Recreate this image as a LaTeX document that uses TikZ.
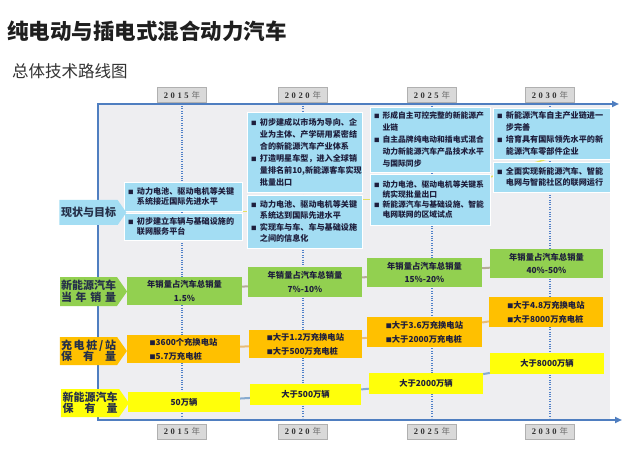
\documentclass[tikz,border=0pt]{standalone}
\usepackage{fontspec}
\setmainfont{Noto Sans CJK SC}
\newfontfamily\yrfont{Liberation Serif}
\usetikzlibrary{arrows.meta,shapes.symbols}
\definecolor{boxblue}{HTML}{A3DDF3}
\definecolor{boxgreen}{HTML}{92D050}
\definecolor{boxorange}{HTML}{FFC000}
\definecolor{boxyellow}{HTML}{FFFF0A}
\definecolor{bggray}{HTML}{EEEEF1}
\definecolor{axisblue}{HTML}{4F7EC0}
\definecolor{dotblue}{HTML}{5080C8}
\definecolor{boxtext}{HTML}{1E1E3C}
\definecolor{lbltext}{HTML}{253049}
\definecolor{yrfill}{HTML}{D9D9D9}
\definecolor{yrdraw}{HTML}{B0B0B0}
\definecolor{yrgray}{HTML}{707070}
\definecolor{cyellow}{HTML}{E4E060}
\definecolor{cgray}{HTML}{B4AC98}
\definecolor{corange}{HTML}{E8BC78}
\definecolor{cblue}{HTML}{86AAD0}
\pgfdeclarelayer{bg}
\pgfsetlayers{bg,main}
\newcommand\bul{\makebox[1.1em][l]{\fontsize{5.5}{5}\selectfont ■}}
\newcommand\hng{\hspace*{1.1em}}
\newcommand\obul{{\fontsize{6}{6}\selectfont ■}}
\newcommand\yrlab[4]{{\yrfont\bfseries #1\kern2.6pt#2\kern2.6pt#3\kern2.6pt#4}\kern3pt{\color{yrgray}年}}
\newcommand\spr[1]{\makebox[55pt][s]{#1}}
\begin{document}
\begin{tikzpicture}[x=1pt,y=-1pt,
  every node/.style={inner sep=0pt},
  bluebox/.style={rectangle, fill=boxblue, draw=white, line width=0.6pt, align=left, inner xsep=4pt, text=boxtext},
  greenbox/.style={rectangle, fill=boxgreen, align=center, text=boxtext, font={\bfseries\fontsize{8.3}{13.5}\selectfont}},
  orangebox/.style={rectangle, fill=boxorange, align=left, text=boxtext, font={\bfseries\fontsize{8.3}{14}\selectfont}},
  yellowbox/.style={rectangle, fill=boxyellow, align=center, text=boxtext, font={\bfseries\fontsize{8.3}{10}\selectfont}},
  lbl/.style={shape=signal, signal to=east, signal pointer angle=110, align=center, text=lbltext, font={\bfseries\fontsize{11}{11.5}\selectfont}},
  yearbox/.style={rectangle, fill=yrfill, draw=yrdraw, line width=0.6pt, minimum width=49pt, minimum height=15pt, text=black!80, font={\fontsize{8.5}{9}\selectfont}},
  dotline/.style={dotblue, line width=1.3pt, dash pattern=on 1.1pt off 1.3pt},
  axisline/.style={axisblue, line width=2pt, line join=miter},
  conn/.style={line width=2pt}
]
\useasboundingbox (0,0) rectangle (640,449);

% titles
\node[anchor=west, text=black!88, font={\bfseries\fontsize{21.5}{24}\selectfont}] (title) at (7,31) {纯电动与插电式混合动力汽车};
\node[anchor=west, text=black!80, font={\fontsize{16.5}{18}\selectfont}] (subtitle) at (12,71.5) {总体技术路线图};

% year labels
\node[yearbox] (t15) at (182,95) {\yrlab2015};
\node[yearbox] (t20) at (303,95) {\yrlab2020};
\node[yearbox] (t25) at (432,95) {\yrlab2025};
\node[yearbox] (t30) at (550,95) {\yrlab2030};
\node[yearbox] (d15) at (182,431.5) {\yrlab2015};
\node[yearbox] (d20) at (303,431.5) {\yrlab2020};
\node[yearbox] (d25) at (432,431.5) {\yrlab2025};
\node[yearbox] (d30) at (550,431.5) {\yrlab2030};

% axis corner coordinates
\coordinate (tl) at (98,104);
\coordinate (tr) at (619,104);
\coordinate (bl) at (98,420);
\coordinate (br) at (622,420);

% blue boxes
\node[bluebox, minimum width=118pt, minimum height=29pt, text width=110pt, font={\bfseries\fontsize{8.1}{10.5}\selectfont}] (b15a) at (183,196.5)
  {\bul 动力电池、驱动电机等关键\\\hng 系统接近国际先进水平};
\node[bluebox, minimum width=118pt, minimum height=27pt, text width=110pt, font={\bfseries\fontsize{8.1}{10.5}\selectfont}] (b15b) at (183,226.5)
  {\bul 初步建立车辆与基础设施的\\\hng 联网服务平台};
\node[bluebox, minimum width=115pt, minimum height=80pt, text width=107pt, font={\bfseries\fontsize{8.1}{12}\selectfont}] (b20a) at (304.5,152)
  {\bul 初步建成以市场为导向、企\\\hng 业为主体、产学研用紧密结\\\hng 合的新能源汽车产业体系\\\bul 打造明星车型，进入全球销\\\hng 量排名前10,新能源客车实现\\\hng 批量出口};
\node[bluebox, minimum width=115pt, minimum height=53pt, text width=107pt, font={\bfseries\fontsize{8.1}{10.6}\selectfont}] (b20b) at (304.5,221.5)
  {\bul 动力电池、驱动电机等关键\\\hng 系统达到国际先进水平\\[2pt]\bul 实现车与车、车与基础设施\\\hng 之间的信息化};
\node[bluebox, minimum width=120pt, minimum height=65pt, text width=112pt, font={\bfseries\fontsize{7.8}{12.2}\selectfont}] (b25a) at (430,139.5)
  {\bul 形成自主可控完整的新能源产\\\hng 业链\\\bul 自主品牌纯电动和插电式混合\\\hng 动力新能源汽车产品技术水平\\\hng 与国际同步};
\node[bluebox, minimum width=120pt, minimum height=51pt, text width=112pt, font={\bfseries\fontsize{7.8}{10.2}\selectfont}] (b25b) at (430,199.5)
  {\bul 动力电池、驱动电机等关键系\\\hng 统实现批量出口\\\bul 新能源汽车与基础设施、智能\\\hng 电网联网的区域试点};
\node[bluebox, minimum width=117pt, minimum height=51pt, text width=109pt, font={\bfseries\fontsize{8.1}{12.2}\selectfont}] (b30a) at (551.5,133.5)
  {\bul 新能源汽车自主产业链进一\\\hng 步完善\\\bul 培育具有国际领先水平的新\\\hng 能源汽车零部件企业};
\node[bluebox, minimum width=117pt, minimum height=30pt, text width=109pt, font={\bfseries\fontsize{8.1}{11}\selectfont}] (b30b) at (551.5,177)
  {\bul 全面实现新能源汽车、智能\\\hng 电网与智能社区的联网运行};
\coordinate (t30dot) at (550,158);

% green boxes
\node[greenbox, minimum width=115pt, minimum height=28pt] (g15) at (184.5,291) {年销量占汽车总销量\\1.5\%};
\node[greenbox, minimum width=114pt, minimum height=30pt] (g20) at (305,282) {年销量占汽车总销量\\7\%-10\%};
\node[greenbox, minimum width=115pt, minimum height=29pt] (g25) at (424.5,272.5) {年销量占汽车总销量\\15\%-20\%};
\node[greenbox, minimum width=113pt, minimum height=29pt] (g30) at (546.5,263.5) {年销量占汽车总销量\\40\%-50\%};

% orange boxes
\node[orangebox, minimum width=113pt, minimum height=28pt] (o15) at (183.5,349) {\obul 3600个充换电站\\\obul 5.7万充电桩};
\node[orangebox, minimum width=113pt, minimum height=28pt] (o20) at (305.5,344) {\obul 大于1.2万充换电站\\\obul 大于500万充电桩};
\node[orangebox, minimum width=115pt, minimum height=30pt] (o25) at (424.5,332) {\obul 大于3.6万充换电站\\\obul 大于2000万充电桩};
\node[orangebox, minimum width=114pt, minimum height=30pt] (o30) at (546,312) {\obul 大于4.8万充换电站\\\obul 大于8000万充电桩};

% yellow boxes
\node[yellowbox, minimum width=112pt, minimum height=20pt] (y15) at (184,402) {50万辆};
\node[yellowbox, minimum width=111pt, minimum height=21pt] (y20) at (305.5,394.5) {大于500万辆};
\node[yellowbox, minimum width=114pt, minimum height=21pt] (y25) at (426,383.5) {大于2000万辆};
\node[yellowbox, minimum width=114pt, minimum height=21pt] (y30) at (547,363.5) {大于8000万辆};

% row labels
\node[lbl, fill=boxblue, minimum width=67pt, minimum height=25pt] (L1) at (88.5,212.5) {现状与目标};
\node[lbl, fill=boxgreen, minimum width=67pt, minimum height=29pt] (L2) at (88.5,291.5) {新能源汽车\\\spr{当\hfill 年\hfill 销\hfill 量}};
\node[lbl, fill=boxorange, minimum width=67pt, minimum height=28pt] (L3) at (88.5,351) {\spr{充\hfill 电\hfill 桩\hfill /\hfill 站}\\\spr{保\hfill 有\hfill 量}};
\node[lbl, fill=boxyellow, minimum width=68pt, minimum height=28pt] (L4) at (90,403) {新能源汽车\\\spr{保\hfill 有\hfill 量}};

\begin{pgfonlayer}{bg}
  \fill[bggray] (tl) rectangle (610,420);
  \foreach \a/\b in {t15/d15,t20/d20,t25/d25,t30/d30}
    \draw[dotline] (\a |- 0,106) -- (\b |- 0,418);
  \draw[axisline, {Triangle[length=7pt,width=6pt]}-{Triangle[length=7pt,width=6pt]}] (tr) -- (tl) -- (bl) -- (br);
  % connectors
  \draw[conn, cyellow, line width=1.5pt] (b15a.south east) -- (b15a.south east -| b20b.west);
  \draw[conn, cyellow, line width=1.5pt] (b20b.east |- b25b.west) -- (b25b.west);
  \draw[conn, cyellow, line width=1.5pt] (b25b.east |- b30b.west) -- (t30dot);
  \draw[conn, cgray] (g15) -- (g20);
  \draw[conn, cgray] (g20) -- (g25);
  \draw[conn, cgray] (g25) -- (g30);
  \draw[conn, corange] (o15) -- (o20);
  \draw[conn, corange] (o20) -- (o25);
  \draw[conn, corange] (o25) -- (o30);
  \draw[conn, cblue] (y15) -- (y20);
  \draw[conn, cblue] (y20) -- (y25);
  \draw[conn, cblue] (y25) -- (y30);
\end{pgfonlayer}
\end{tikzpicture}
\end{document}
